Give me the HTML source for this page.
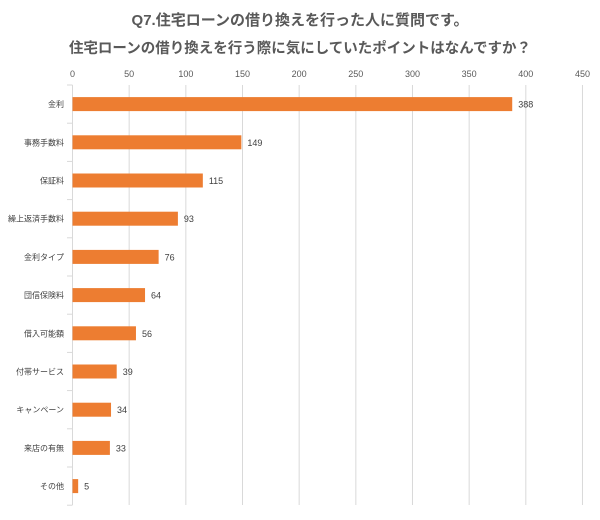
<!DOCTYPE html>
<html><head><meta charset="utf-8"><style>
body{margin:0;background:#fff;}
</style></head><body>
<svg id="svg" width="600" height="515" xmlns="http://www.w3.org/2000/svg" font-family="Liberation Sans, Noto Sans CJK JP, sans-serif">
<rect width="600" height="515" fill="#fff"/>
<text x="300" y="25" text-anchor="middle" font-size="15" font-weight="bold" fill="#595959">Q7.住宅ローンの借り換えを行った人に質問です。</text>
<text x="300" y="53" text-anchor="middle" font-size="14.5" font-weight="bold" fill="#595959">住宅ローンの借り換えを行う際に気にしていたポイントはなんですか？</text>
<g id="grid" stroke="#d9d9d9" stroke-width="1"></g>
<g id="bars"></g>
</svg>
<script>
(function(){
var x0=72.5,s=1.1333,T=85,step=38.2;
var g=document.getElementById('grid'),b=document.getElementById('bars');
var ns='http://www.w3.org/2000/svg';
function el(p,t,a,txt){var e=document.createElementNS(ns,t);for(var k in a)e.setAttribute(k,a[k]);if(txt!=null)e.textContent=txt;p.appendChild(e);return e;}
for(var v=0;v<=450;v+=50){var x=x0+v*s;el(g,'line',{x1:x,x2:x,y1:T,y2:505});
el(b,'text',{x:x,y:77,'text-anchor':'middle','font-size':9,fill:'#595959'},v);}
for(var i=0;i<=11;i++){el(g,'line',{x1:67,x2:x0,y1:T+i*step,y2:T+i*step});}
var d=[['金利',388],['事務手数料',149],['保証料',115],['繰上返済手数料',93],['金利タイプ',76],['団信保険料',64],['借入可能額',56],['付帯サービス',39],['キャンペーン',34],['来店の有無',33],['その他',5]];
d.forEach(function(r,i){var cy=T+step/2+i*step;var w=r[1]*s;
el(b,'rect',{x:x0,y:cy-7,width:w,height:14,fill:'#ed7d31'});
el(b,'text',{x:x0+w+6,y:cy+3.5,'font-size':9,fill:'#404040'},r[1]);
el(b,'text',{x:64,y:cy+3,'text-anchor':'end','font-size':8,fill:'#404040'},r[0]);});
})();
</script>
</body></html>
